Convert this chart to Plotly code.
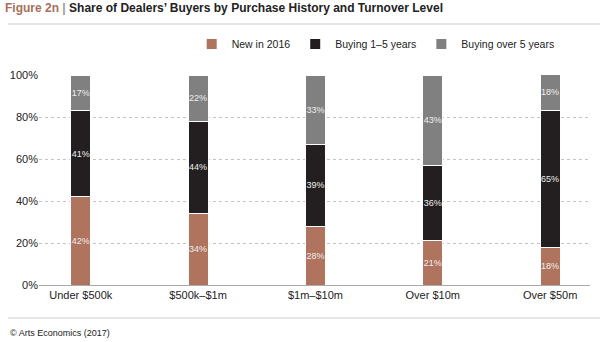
import plotly.graph_objects as go

categories = ["Under $500k", "$500k–$1m", "$1m–$10m", "Over $10m", "Over $50m"]
new_2016 = [42, 34, 28, 21, 18]
buying_1_5 = [41, 44, 39, 36, 65]
buying_over_5 = [17, 22, 33, 43, 18]
series_names = ["New in 2016", "Buying 1–5 years", "Buying over 5 years"]
colors = ["#B0735E", "#231F20", "#808080"]
tick_vals = [0, 20, 40, 60, 80, 100]
tick_text = ["0%", "20%", "40%", "60%", "80%", "100%"]

FONT = "Liberation Sans Narrow, Arial Narrow, Liberation Sans, Arial, sans-serif"

fig = go.Figure()
for name, vals, col in zip(series_names, [new_2016, buying_1_5, buying_over_5], colors):
    fig.add_trace(go.Bar(
        x=categories, y=vals, name=name,
        marker=dict(color=col, line=dict(color="white", width=1)),
        text=[f"{v}%" for v in vals], textposition="inside", textangle=0,
        insidetextanchor="middle",
        textfont=dict(color="#EEEEEE", size=9, family=FONT),
        width=0.17,
    ))

fig.update_layout(
    barmode="stack",
    width=600, height=342,
    margin=dict(l=36, r=10, t=75, b=57),
    paper_bgcolor="white", plot_bgcolor="white",
    font=dict(family=FONT, color="#222222", size=11),
    showlegend=True,
    uniformtext=dict(minsize=8, mode="show"),
    legend=dict(orientation="h", x=0.945, xanchor="right", y=1 + 31 / 210, yanchor="middle",
                font=dict(size=10.5, family=FONT), itemwidth=30, entrywidthmode="pixels",
                traceorder="normal", itemsizing="constant", tracegroupgap=0),
    xaxis=dict(showgrid=False, showline=True, linecolor="#AAAAAA", linewidth=1,
               range=[-0.356, 4.34],
               tickfont=dict(size=11, family=FONT), ticks=""),
    yaxis=dict(range=[0, 100], tickvals=tick_vals, ticktext=tick_text,
               showgrid=True, gridcolor="#C4C4C4", griddash="dot", gridwidth=1,
               zeroline=False, tickfont=dict(size=11, family=FONT), ticks=""),
)

fig.add_annotation(xref="paper", yref="paper", x=-36/554, y=1 + (75 - 8) / 210,
                   xanchor="left", yanchor="middle", showarrow=False,
                   text="<b><span style='color:#A86F5B'>Figure 2n</span> <span style='color:#999999'>|</span> Share of Dealers’ Buyers by Purchase History and Turnover Level</b>",
                   font=dict(size=12, family=FONT, color="#222222"))
fig.add_shape(type="line", xref="paper", yref="paper",
              x0=-31/554, x1=585/554, y0=1 + (75 - 24) / 210, y1=1 + (75 - 24) / 210,
              line=dict(color="#CCCCCC", width=1))
fig.add_shape(type="line", xref="paper", yref="paper",
              x0=-31/554, x1=585/554, y0=-(318 - 285) / 210, y1=-(318 - 285) / 210,
              line=dict(color="#CCCCCC", width=1))
fig.add_annotation(xref="paper", yref="paper", x=-31/554, y=-(333 - 285) / 210,
                   xanchor="left", yanchor="middle", showarrow=False,
                   text="© Arts Economics (2017)",
                   font=dict(size=9, family=FONT, color="#222222"))

fig.write_html("out.html")
